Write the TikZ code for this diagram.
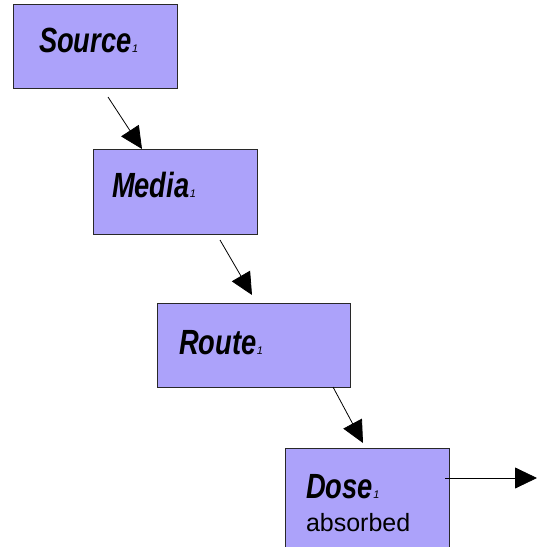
\documentclass[tikz,border=0pt]{standalone}
\usepackage{fontspec}
\setmainfont{Liberation Sans}
\usetikzlibrary{arrows.meta}
\definecolor{boxfill}{RGB}{172,162,250}
\definecolor{boxedge}{RGB}{40,40,40}
\newcommand{\bigword}[1]{\scalebox{0.78}[1]{\fontsize{35}{35}\selectfont\bfseries\itshape #1}\hspace{0.5pt}{\fontsize{11}{11}\selectfont\itshape 1}}
\begin{document}
\begin{tikzpicture}[x=1pt,y=-1pt,
  box/.style={draw=boxedge, fill=boxfill, line width=0.9pt},
  lbl/.style={anchor=base west, inner sep=0pt, outer sep=0pt},
  conn/.style={draw=black, line width=0.8pt, -{Triangle[length=22pt,width=21pt]}}]
\useasboundingbox (0,0) rectangle (537,547);
% boxes
\draw[box] (13,4) rectangle (177,88);
\draw[box] (93,149) rectangle (257,234);
\draw[box] (157,303) rectangle (350,387);
\draw[box] (285,448) rectangle (449,555);
% labels
\node[lbl] (src) at (39,52) {\bigword{Source}};
\node[lbl] (med) at (112,197) {\bigword{Media}};
\node[lbl] (rte) at (179,354) {\bigword{Route}};
\node[lbl] (dos) at (306,498) {\bigword{Dose}};
\node[lbl] (abs) at (306,531) {\fontsize{25}{25}\selectfont absorbed};
% connector end points
\coordinate (a1) at (108,97);  \coordinate (b1) at (142,149);
\coordinate (a2) at (220,240); \coordinate (b2) at (252,295);
\coordinate (a3) at (333,387); \coordinate (b3) at (363,443);
\coordinate (a4) at (445,478); \coordinate (b4) at (537,478);
\draw[conn] (a1) -- (b1);
\draw[conn] (a2) -- (b2);
\draw[conn] (a3) -- (b3);
\draw[conn] (a4) -- (b4);
\end{tikzpicture}
\end{document}
